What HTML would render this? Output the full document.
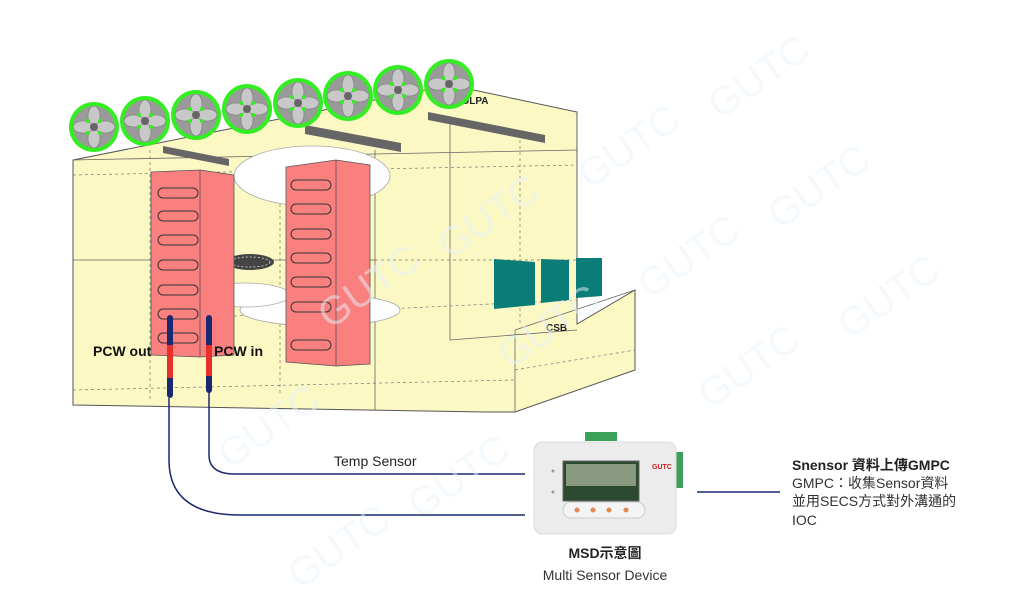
<!DOCTYPE html>
<html><head><meta charset="utf-8"><style>
html,body{margin:0;padding:0;background:#fff;width:1024px;height:614px;overflow:hidden}
svg{display:block}
.t{font-family:"Liberation Sans","Noto Sans CJK TC",sans-serif}
</style></head><body>
<svg width="1024" height="614" viewBox="0 0 1024 614" xmlns="http://www.w3.org/2000/svg">
<defs>
<g id="fan">
<circle r="25" fill="#33ee22"/>
<circle r="21" fill="#9a9a9a"/>
<g fill="#c8c8c8" stroke="#777" stroke-width="0.6">
<ellipse cx="0" cy="-11" rx="6" ry="10"/><ellipse cx="0" cy="11" rx="6" ry="10"/>
<ellipse cx="-11" cy="0" rx="10" ry="6"/><ellipse cx="11" cy="0" rx="10" ry="6"/>
</g>
<circle r="4" fill="#666"/>
<g fill="#33ee22"><circle cx="6" cy="6" r="2"/><circle cx="-6" cy="6" r="2"/><circle cx="6" cy="-6" r="2"/><circle cx="-6" cy="-6" r="2"/></g>
</g>
<g id="slot"><rect x="-20" y="-5" width="40" height="10" rx="5" fill="none" stroke="#333" stroke-width="1"/></g>
</defs>

<polygon points="73,160 450,85 577,112 577,324 635,290 635,370 515,412 485,412 73,405" fill="#fbf8c4" stroke="#555" stroke-width="1"/>
<g stroke="#666" stroke-width="0.8" fill="none">
<line x1="577" y1="112" x2="577" y2="324"/>
<line x1="515" y1="330" x2="515" y2="412"/>
<line x1="515" y1="330" x2="635" y2="290"/>
<line x1="73" y1="160" x2="577" y2="150"/>
<line x1="73" y1="260" x2="375" y2="260"/>
<line x1="375" y1="150" x2="375" y2="410"/>
<line x1="450" y1="120" x2="450" y2="340"/>
<line x1="450" y1="340" x2="577" y2="330"/>
</g>
<g stroke="#777" stroke-width="0.7" fill="none" stroke-dasharray="3,3">
<line x1="150" y1="150" x2="150" y2="400"/>
<line x1="280" y1="150" x2="280" y2="395"/>
<line x1="520" y1="140" x2="520" y2="325"/>
<line x1="73" y1="175" x2="577" y2="165"/>
<line x1="375" y1="260" x2="577" y2="260"/>
<line x1="73" y1="390" x2="515" y2="380"/>
<line x1="150" y1="320" x2="577" y2="300"/>
<line x1="515" y1="370" x2="635" y2="350"/>
</g>

<g fill="#666">
<polygon points="163,146 229,159 229,166 163,153"/>
<polygon points="305,125 401,143 401,152 305,134"/>
<polygon points="428,112 545,135 545,143 428,120"/>
</g>
<text x="462" y="104" class="t" font-size="10" font-weight="bold" fill="#222">ULPA</text>

<g fill="#fff" stroke="#aaa" stroke-width="0.8">
<ellipse cx="312" cy="176" rx="78" ry="30"/>
<ellipse cx="320" cy="310" rx="80" ry="16"/>
<ellipse cx="245" cy="295" rx="45" ry="12"/>
</g>
<ellipse cx="250" cy="262" rx="24" ry="8" fill="#444"/>
<ellipse cx="250" cy="262" rx="20" ry="5" fill="none" stroke="#bbb" stroke-dasharray="2,2"/>

<g stroke="#555" stroke-width="0.8">
<polygon points="151,172 200,170 234,175 234,355 200,357 151,355" fill="#fa8080"/>
<line x1="200" y1="170" x2="200" y2="357"/>
<polygon points="286,167 336,160 370,165 370,364 336,366 286,362" fill="#fa8080"/>
<line x1="336" y1="160" x2="336" y2="366"/>
</g>
<g transform="translate(178,0)">
<use href="#slot" y="193"/><use href="#slot" y="216"/><use href="#slot" y="240"/><use href="#slot" y="265"/><use href="#slot" y="290"/><use href="#slot" y="314"/><use href="#slot" y="338"/>
</g>
<g transform="translate(311,0)">
<use href="#slot" y="185"/><use href="#slot" y="209"/><use href="#slot" y="234"/><use href="#slot" y="258"/><use href="#slot" y="282"/><use href="#slot" y="307"/><use href="#slot" y="345"/>
</g>

<use href="#fan" x="94" y="127"/><use href="#fan" x="145" y="121"/><use href="#fan" x="196" y="115"/><use href="#fan" x="247" y="109"/>
<use href="#fan" x="298" y="103"/><use href="#fan" x="348" y="96"/><use href="#fan" x="398" y="90"/><use href="#fan" x="449" y="84"/>

<g fill="#0a7d78">
<polygon points="494,259 535,262 535,305 494,309"/>
<polygon points="541,259 569,260 569,300 541,303"/>
<polygon points="576,258 602,258 602,296 576,298"/>
</g>
<text x="546" y="331" class="t" font-size="10" font-weight="bold" fill="#222">CSB</text>

<g stroke-linecap="round">
<line x1="170" y1="318" x2="170" y2="395" stroke="#1a2870" stroke-width="6"/>
<line x1="170" y1="345" x2="170" y2="378" stroke="#e8302a" stroke-width="6" stroke-linecap="butt"/>
<line x1="209" y1="318" x2="209" y2="390" stroke="#1a2870" stroke-width="6"/>
<line x1="209" y1="345" x2="209" y2="376" stroke="#e8302a" stroke-width="6" stroke-linecap="butt"/>
</g>
<text x="93" y="356" class="t" font-size="14" font-weight="bold" fill="#111">PCW out</text>
<text x="214" y="356" class="t" font-size="14" font-weight="bold" fill="#111">PCW in</text>

<g fill="none" stroke="#1a2870" stroke-width="1.5">
<path d="M169,398 L169,460 Q169,515 240,515 L525,515"/>
<path d="M209,392 L209,455 Q209,474 235,474 L525,474"/>
<line x1="697" y1="492" x2="780" y2="492"/>
</g>
<text x="334" y="466" class="t" font-size="14" fill="#222">Temp Sensor</text>

<rect x="585" y="432" width="32" height="9" fill="#3aa05a"/>
<rect x="673" y="452" width="10" height="36" fill="#3aa05a"/>
<rect x="534" y="442" width="142" height="92" rx="8" fill="#ececec" stroke="#ddd"/>
<rect x="563" y="461" width="76" height="40" fill="#2c4a30" stroke="#666"/>
<rect x="566" y="464" width="70" height="22" fill="#8a9a80"/>
<rect x="563" y="502" width="82" height="16" rx="8" fill="#f4f4f4" stroke="#ccc"/>
<g fill="#e08a50"><circle cx="577" cy="510" r="2.5"/><circle cx="593" cy="510" r="2.5"/><circle cx="609" cy="510" r="2.5"/><circle cx="626" cy="510" r="2.5"/></g>
<text x="652" y="469" class="t" font-size="7" font-weight="bold" fill="#c62020">GUTC</text>
<circle cx="553" cy="471" r="1.5" fill="#999"/><circle cx="553" cy="492" r="1.5" fill="#999"/>

<text x="605" y="558" text-anchor="middle" class="t" font-size="14" font-weight="bold" fill="#222">MSD示意圖</text>
<text x="605" y="580" text-anchor="middle" class="t" font-size="14" fill="#333">Multi Sensor Device</text>

<text x="792" y="470" class="t" font-size="14" font-weight="bold" fill="#222">Snensor 資料上傳GMPC</text>
<text x="792" y="488" class="t" font-size="14" fill="#333">GMPC：收集Sensor資料</text>
<text x="792" y="506" class="t" font-size="14" fill="#333">並用SECS方式對外溝通的</text>
<text x="792" y="525" class="t" font-size="14" fill="#333">IOC</text>

<g class="t" font-size="40" fill="#e6f2fa" opacity="0.5">
<text transform="translate(720,120) rotate(-35)">GUTC</text>
<text transform="translate(590,190) rotate(-35)">GUTC</text>
<text transform="translate(780,230) rotate(-35)">GUTC</text>
<text transform="translate(450,260) rotate(-35)">GUTC</text>
<text transform="translate(650,300) rotate(-35)">GUTC</text>
<text transform="translate(850,340) rotate(-35)">GUTC</text>
<text transform="translate(330,330) rotate(-35)">GUTC</text>
<text transform="translate(510,370) rotate(-35)">GUTC</text>
<text transform="translate(710,410) rotate(-35)">GUTC</text>
<text transform="translate(230,470) rotate(-35)">GUTC</text>
<text transform="translate(420,520) rotate(-35)">GUTC</text>
<text transform="translate(300,590) rotate(-35)">GUTC</text>
</g>
</svg>
</body></html>
